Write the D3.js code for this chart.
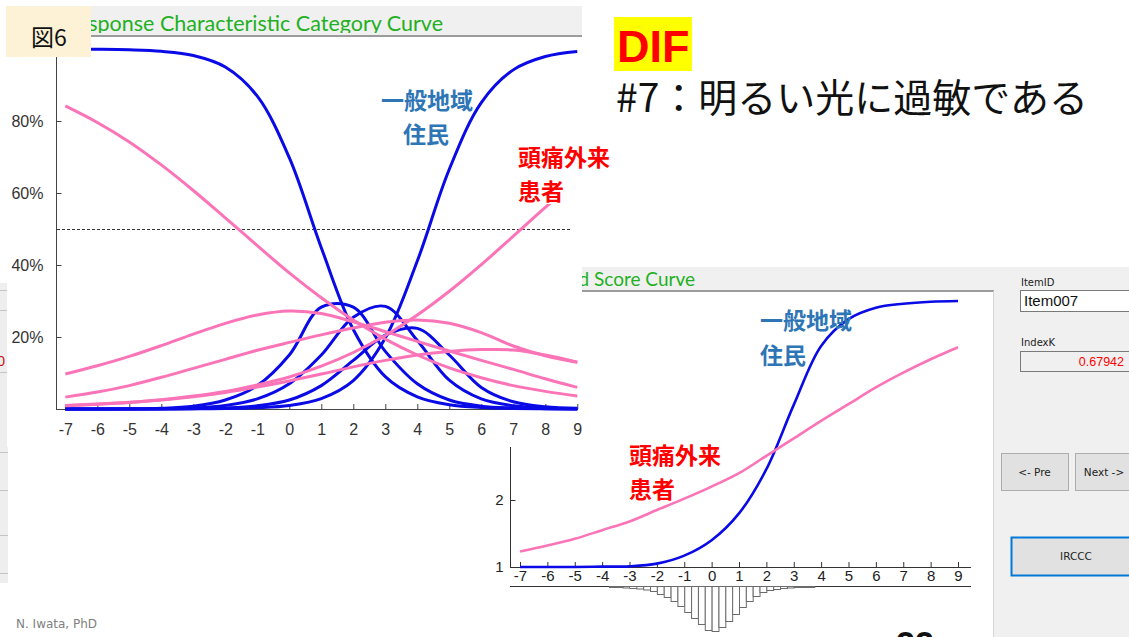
<!DOCTYPE html>
<html><head><meta charset="utf-8">
<script src="https://cdn.jsdelivr.net/npm/d3@7"></script>
<style>
html,body{margin:0;padding:0;background:#fff;}
svg{display:block;}
</style></head>
<body>
<svg id="slide" width="1129" height="637"></svg>
<script>
// ability scale (theta)
const theta = [-7,-6,-5,-4,-3,-2,-1,0,1,2,3,4,5,6,7,8,9];
const pctTicks = [20,40,60,80];
const scoreTicks = [1,2,3,4,5];

// category response curves (%) : general community residents
const genCat1 = [99.97,99.92,99.77,99.36,98.2,95.0,86.9,69.8,44.8,22.1,9.0,3.4,1.2,0.4,0.15,0.05,0.02];
const genCat2 = [0,0,0.05,0.2,0.8,2.5,6.5,15,28.3,28.3,16,7,2.5,0.8,0.3,0.1,0];
const genCat3 = [0,0,0,0.1,0.3,1,2.8,7,15,25.5,28.5,19,8,2.8,0.9,0.3,0.1];
const genCat4 = [0,0,0,0,0.1,0.3,0.9,2.5,6.5,13.5,20.5,22.4,15,6,2,0.6,0.2];
const genCat5 = [0,0,0,0,0.05,0.13,0.37,1.0,2.9,7.9,19.7,41.1,66.6,85.1,94.2,97.9,99.3];

// category response curves (%) : headache outpatients
const hdCat1 = [84.2,79.6,74.2,67.8,60.7,53.1,45.4,37.8,30.9,24.7,19.4,15.0,11.4,8.7,6.5,4.9,3.6];
const hdCat2 = [9.7,12,14.6,17.6,20.8,23.8,26.1,27.2,26.5,24.2,21.5,18.8,16.1,13.5,11,8.4,6];
const hdCat3 = [3.3,4.7,6.5,8.8,11.3,13.8,16.3,18.5,20.6,22.5,24.1,24.7,23.8,21.2,17.5,14.8,13];
const hdCat4 = [0.9,1.3,1.8,2.5,3.4,4.6,6.1,7.8,9.7,11.7,13.5,15,16,16.5,16.4,15,13];
const hdCat5 = [1.0,1.4,1.9,2.6,3.6,4.9,6.7,8.9,11.9,15.7,20.4,26.1,32.7,40.1,48,56,63.6];

// expected item score
const genScore = [1.0,1.0,1.0,1.005,1.01,1.05,1.17,1.4,1.8,2.46,3.42,4.3,4.7,4.87,4.93,4.96,4.97];
const hdScore  = [1.23,1.32,1.42,1.55,1.68,1.85,2.02,2.2,2.4,2.66,2.92,3.18,3.43,3.68,3.9,4.1,4.28];

// ability distribution (bin start, relative frequency)
const histStart = [-3.75,-3.5,-3.25,-3,-2.75,-2.5,-2.25,-2,-1.75,-1.5,-1.25,-1,-0.75,-0.5,-0.25,0,0.25,0.5,0.75,1,1.25,1.5,1.75,2,2.25,2.5,2.75,3,3.25,3.5];
const histFreq  = [1,1,1.5,2,2.5,3.5,5,8,11,15,20,26,32,38,44,45,41,35,28,21,15,10,6,4,3,2,1.5,1,1,1];

const svg = d3.select("#slide");
const SANS = "'Liberation Sans', Arial, sans-serif";
const UI = "'DejaVu Sans', sans-serif";
const JP = "'Noto Sans CJK JP', sans-serif";
const BLUE = "#0a0ae6", PINK = "#fb74b8", GREEN = "#22b022";
const LBLUE = "#2e75b6", RED = "#ff0000";

const defs = svg.append("defs");

// ---------- window sliver at left edge ----------
const side = svg.append("g");
side.append("rect").attr("x",0).attr("y",283).attr("width",8).attr("height",300).attr("fill","#eeeeee");
[290,310,372,452,490,535,573].forEach(y =>
  side.append("line").attr("x1",0).attr("x2",8).attr("y1",y+0.5).attr("y2",y+0.5).attr("stroke","#c4c4c4"));
side.append("text").attr("x",5).attr("y",366).attr("text-anchor","end").attr("font-family",SANS)
  .attr("font-size",14).attr("fill","#d01010").text("0");

// ---------- expected score window ----------
const w2 = svg.append("g");
w2.append("rect").attr("x",485).attr("y",267).attr("width",644).attr("height",370).attr("fill","#ffffff");
w2.append("rect").attr("x",485).attr("y",267).attr("width",510).attr("height",23).attr("fill","#f0f0f0");
w2.append("line").attr("x1",485).attr("x2",994).attr("y1",291).attr("y2",291).attr("stroke","#9c9c9c").attr("stroke-width",2);
defs.append("clipPath").attr("id","t2clip").append("rect").attr("x",485).attr("y",267).attr("width",510).attr("height",21);
w2.append("text").attr("clip-path","url(#t2clip)").attr("x",695).attr("y",286).attr("text-anchor","end")
  .attr("font-family","Lato, sans-serif").attr("font-size",19).attr("fill",GREEN).text("Expected Score Curve");

const x2 = d3.scaleLinear().domain([-7,9]).range([520,958]);
const y2 = d3.scaleLinear().domain([1,5]).range([567,299]);
const hScale = d3.scaleLinear().domain([0,45]).range([0,45]);

const ax2 = w2.append("g").attr("transform","translate(0,567)")
  .call(d3.axisBottom(x2).tickValues(theta).tickSize(-5).tickPadding(3).tickFormat(d => String(d)));
ax2.select(".domain").remove();
ax2.selectAll("line").attr("stroke","#333");
ax2.selectAll("text").attr("font-family",SANS).attr("font-size",15).attr("fill","#222");
w2.append("line").attr("x1",510).attr("x2",971).attr("y1",567.5).attr("y2",567.5).attr("stroke","#333");
w2.append("line").attr("x1",510).attr("x2",971).attr("y1",586.5).attr("y2",586.5).attr("stroke","#333");

const ay2 = w2.append("g").attr("transform","translate(510.5,0)")
  .call(d3.axisLeft(y2).tickValues(scoreTicks).tickSize(-5).tickPadding(7).tickFormat(d => String(d)));
ay2.select(".domain").attr("d","M0,567V430").attr("stroke","#333");
ay2.selectAll("line").attr("stroke","#333");
ay2.selectAll("text").attr("font-family",SANS).attr("font-size",15).attr("fill","#222");

// ability histogram hanging below the axis
w2.append("g").selectAll("rect").data(histStart).join("rect")
  .attr("x", d => x2(d) + 0.5)
  .attr("y", 586.5)
  .attr("width", d => x2(d + 0.25) - x2(d))
  .attr("height", (d,i) => hScale(histFreq[i]))
  .attr("fill","#ffffff").attr("stroke","#6b6b6b").attr("stroke-width",1);

const line2 = d3.line().x((d,i) => x2(theta[i])).y(d => y2(d)).curve(d3.curveCatmullRom.alpha(0.5));
w2.append("path").attr("d", line2(genScore)).attr("fill","none").attr("stroke",BLUE).attr("stroke-width",2.6);
w2.append("path").attr("d", line2(hdScore)).attr("fill","none").attr("stroke",PINK).attr("stroke-width",2.6);

// control panel
const panel = w2.append("g");
panel.append("rect").attr("x",994).attr("y",267).attr("width",135).attr("height",370).attr("fill","#f0f0f0");
panel.append("line").attr("x1",993.5).attr("x2",993.5).attr("y1",291).attr("y2",637).attr("stroke","#d4d4d4");
panel.append("text").attr("x",1021).attr("y",286).attr("font-family",UI).attr("font-size",10).attr("fill","#222").text("ItemID");
panel.append("rect").attr("x",1020.5).attr("y",290.5).attr("width",120).attr("height",21).attr("fill","#ffffff").attr("stroke","#7a7a7a");
panel.append("text").attr("x",1024).attr("y",306).attr("font-family",SANS).attr("font-size",15).attr("fill","#111").text("Item007");
panel.append("text").attr("x",1021).attr("y",346).attr("font-family",UI).attr("font-size",10).attr("fill","#222").text("IndexK");
panel.append("rect").attr("x",1020.5).attr("y",351.5).attr("width",120).attr("height",20).attr("fill","#f0f0f0").attr("stroke","#7a7a7a");
panel.append("text").attr("x",1124).attr("y",366).attr("text-anchor","end").attr("font-family",SANS).attr("font-size",12.5).attr("fill",RED).text("0.67942");
const btn = (x,y,w,h,label,stroke,sw) => {
  panel.append("rect").attr("x",x+0.5).attr("y",y+0.5).attr("width",w).attr("height",h)
    .attr("fill","#e1e1e1").attr("stroke",stroke).attr("stroke-width",sw);
  panel.append("text").attr("x",x+w/2).attr("y",y+h/2).attr("dominant-baseline","central")
    .attr("text-anchor","middle").attr("font-family",UI).attr("font-size",10.5).attr("fill","#222").text(label);
};
btn(1001,453,67,37,"<- Pre","#adadad",1);
btn(1075,453,58,37,"Next ->","#adadad",1);
btn(1011,537,130,38,"IRCCC","#0078d7",2);

// ---------- category curve window ----------
const w1 = svg.append("g");
w1.append("rect").attr("x",7).attr("y",6).attr("width",575).attr("height",441).attr("fill","#ffffff");
w1.append("rect").attr("x",7).attr("y",6).attr("width",575).attr("height",29).attr("fill","#f0f0f0");
w1.append("line").attr("x1",7).attr("x2",582).attr("y1",36).attr("y2",36).attr("stroke","#9c9c9c").attr("stroke-width",2);
defs.append("clipPath").attr("id","t1clip").append("rect").attr("x",7).attr("y",6).attr("width",575).attr("height",27);
w1.append("text").attr("clip-path","url(#t1clip)").attr("x",443).attr("y",31).attr("text-anchor","end")
  .attr("font-family","Lato, sans-serif").attr("font-size",21.5).attr("fill",GREEN).text("Response Characteristic Category Curve");

const x1 = d3.scaleLinear().domain([-7,9]).range([65.3,577.3]);
const y1 = d3.scaleLinear().domain([0,100]).range([409,49]);

const ax1 = w1.append("g").attr("transform","translate(0,409)")
  .call(d3.axisBottom(x1).tickValues(theta).tickSize(-5).tickPadding(15).tickFormat(d => String(d)));
ax1.select(".domain").remove();
ax1.selectAll("line").attr("stroke","#444");
ax1.selectAll("text").attr("font-family",SANS).attr("font-size",16).attr("fill","#333");
w1.append("line").attr("x1",56).attr("x2",578).attr("y1",409.5).attr("y2",409.5).attr("stroke","#444");

const ay1 = w1.append("g").attr("transform","translate(56.5,0)")
  .call(d3.axisLeft(y1).tickValues(pctTicks).tickSize(-5).tickPadding(13).tickFormat(d => d + "%"));
ay1.select(".domain").attr("d","M0,409V42").attr("stroke","#444");
ay1.selectAll("line").attr("stroke","#444");
ay1.selectAll("text").attr("font-family",SANS).attr("font-size",16).attr("fill","#333");

// 50% reference line
w1.append("line").attr("x1",57).attr("x2",572).attr("y1",y1(50)+0.5).attr("y2",y1(50)+0.5)
  .attr("stroke","#333").attr("stroke-dasharray","3,2");

const line1 = d3.line().x((d,i) => x1(theta[i])).y(d => y1(d)).curve(d3.curveCatmullRom.alpha(0.5));
[genCat1,genCat2,genCat3,genCat4,genCat5].forEach(s =>
  w1.append("path").attr("d", line1(s)).attr("fill","none").attr("stroke",BLUE).attr("stroke-width",3));
[hdCat1,hdCat2,hdCat3,hdCat4,hdCat5].forEach(s =>
  w1.append("path").attr("d", line1(s)).attr("fill","none").attr("stroke",PINK).attr("stroke-width",3));

// ---------- group labels ----------
const lab = (x,y,txt,col,anchor) => svg.append("text").attr("x",x).attr("y",y)
  .attr("dominant-baseline","central").attr("text-anchor",anchor||"start")
  .attr("font-family",JP).attr("font-weight",700).attr("font-size",23).attr("fill",col).text(txt);
lab(427,99,"一般地域",LBLUE,"middle");
lab(426,133,"住民",LBLUE,"middle");
svg.append("rect").attr("x",515).attr("y",142).attr("width",100).attr("height",62).attr("fill","#ffffff");
lab(518,156,"頭痛外来",RED);
lab(518,190,"患者",RED);
lab(760,319,"一般地域",LBLUE);
lab(760,354,"住民",LBLUE);
lab(629,454,"頭痛外来",RED);
lab(629,488,"患者",RED);

// figure tag
svg.append("rect").attr("x",6).attr("y",6).attr("width",85).attr("height",51).attr("fill","#fdf1d6");
svg.append("text").attr("x",49).attr("y",36).attr("dominant-baseline","central").attr("text-anchor","middle")
  .attr("font-family",JP).attr("font-size",23).attr("fill","#111").text("図6");

// heading
svg.append("rect").attr("x",614).attr("y",17).attr("width",78).attr("height",54).attr("fill","#ffff00");
svg.append("text").attr("x",617).attr("y",62).attr("font-family",SANS).attr("font-weight",700)
  .attr("font-size",45).attr("fill",RED).text("DIF");
svg.append("text").attr("x",616).attr("y",95).attr("dominant-baseline","central")
  .attr("font-family",JP).attr("font-size",39).attr("fill","#111").text("#7：明るい光に過敏である");

// footer
svg.append("text").attr("x",16).attr("y",628).attr("font-family",UI).attr("font-size",12)
  .attr("fill","#808080").text("N. Iwata, PhD");
svg.append("text").attr("x",915).attr("y",655).attr("text-anchor","middle").attr("font-family",SANS)
  .attr("font-weight",700).attr("font-size",34).attr("fill","#111").text("22");
</script>
</body></html>
